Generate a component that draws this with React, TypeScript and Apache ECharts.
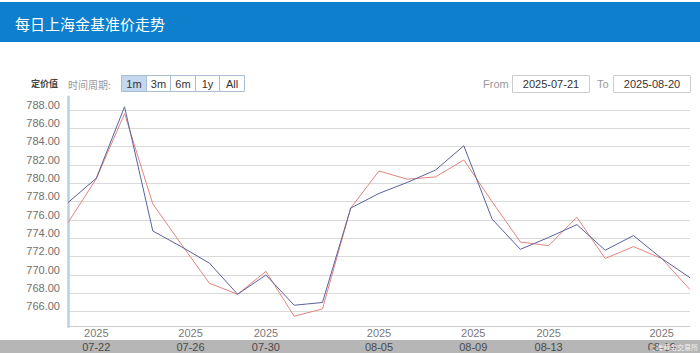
import React, { useEffect, useRef } from 'react';
import * as echarts from 'echarts';

const tradingDays = [
  '2025-07-21', '2025-07-22', '2025-07-23', '2025-07-24', '2025-07-25',
  '2025-07-28', '2025-07-29', '2025-07-30', '2025-07-31', '2025-08-01',
  '2025-08-04', '2025-08-05', '2025-08-06', '2025-08-07', '2025-08-08',
  '2025-08-11', '2025-08-12', '2025-08-13', '2025-08-14', '2025-08-15',
  '2025-08-18', '2025-08-19', '2025-08-20',
];

// 早盘价 (blue) and 午盘价 (red)
const blueValues = [
  777.9, 780.55, 788.35, 774.8, 773.1, 771.3, 767.9, 770.0, 766.7, 767.0,
  777.3, 778.9, 780.1, 781.45, 784.1, 776.1, 772.8, 774.1, 775.5, 772.7,
  774.3, 771.8, 769.7,
];
const redValues = [
  775.7, 780.5, 787.6, 777.75, 773.4, 769.1, 767.9, 770.4, 765.5, 766.3,
  777.3, 781.35, 780.45, 780.7, 782.55, 778.0, 773.6, 773.2, 776.3, 771.8,
  773.1, 771.8, 768.4,
];

const yTickValues = [766, 768, 770, 772, 774, 776, 778, 780, 782, 784, 786, 788];
const yMin = 764.36;
const yMax = 789.45;

const xTickDates = [
  '2025-07-22', '2025-07-26', '2025-07-30', '2025-08-05',
  '2025-08-09', '2025-08-13', '2025-08-19',
];

const periodButtons = ['1m', '3m', '6m', '1y', 'All'];
const fromDate = '2025-07-21';
const toDate = '2025-08-20';
const titleText = '每日上海金基准价走势';

const dayMs = (s: string) => Date.parse(s + 'T00:00:00Z');
function ordinalPos(d: string): number {
  const t = dayMs(d);
  for (let i = 0; i < tradingDays.length - 1; i++) {
    const a = dayMs(tradingDays[i]);
    const b = dayMs(tradingDays[i + 1]);
    if (t >= a && t <= b) return i + (t - a) / (b - a);
  }
  return tradingDays.length - 1;
}

const xTickPos = xTickDates.map(ordinalPos);

const CJK = '"Noto Sans CJK SC", "Liberation Sans", sans-serif';
const LAT = '"Liberation Sans", "Noto Sans CJK SC", sans-serif';

export default function App() {
  const ref = useRef<HTMLDivElement>(null);
  useEffect(() => {
    if (!ref.current) return;
    const chart = echarts.init(ref.current, undefined, { renderer: 'svg' });

    const btnX = [121, 146, 170, 195, 219, 244];
    const buttons: any[] = [];
    periodButtons.forEach((b, i) => {
      buttons.push({
        type: 'rect',
        z: 1,
        shape: { x: btnX[i] + 0.5, y: 75.5, width: btnX[i + 1] - btnX[i], height: 16 },
        style: { fill: i === 0 ? '#c3d7ef' : '#ffffff', stroke: '#a9bdd6', lineWidth: 1 },
      });
      buttons.push({
        type: 'text',
        z: 2,
        style: {
          text: b,
          x: (btnX[i] + btnX[i + 1]) / 2 + 0.5,
          y: 84,
          align: 'center',
          verticalAlign: 'middle',
          fill: '#333',
          font: `11px ${LAT}`,
        },
      });
    });

    const option: any = {
      animation: false,
      backgroundColor: '#ffffff',
      grid: { left: 68, right: 10, top: 96.7, bottom: 26.3, containLabel: false },
      xAxis: {
        type: 'value',
        min: 0,
        max: tradingDays.length - 1,
        axisLine: { show: true, lineStyle: { color: '#cccccc', width: 1 } },
        axisTick: { show: false, customValues: xTickPos },
        splitLine: { show: false },
        axisLabel: {
          customValues: xTickPos,
          margin: 0,
          formatter: (v: number) => {
            let idx = 0;
            let best = Infinity;
            xTickPos.forEach((p, i) => {
              const d = Math.abs(p - v);
              if (d < best) { best = d; idx = i; }
            });
            const s = xTickDates[idx];
            return `{y|${s.slice(0, 4)}}\n{d|${s.slice(5)}}`;
          },
          rich: {
            y: { fontSize: 11, lineHeight: 13.5, color: '#7a7a7a', fontFamily: LAT },
            d: { fontSize: 11, lineHeight: 13.5, color: '#4a4a4a', fontFamily: LAT },
          },
        },
      },
      yAxis: {
        type: 'value',
        min: yMin,
        max: yMax,
        axisLine: { show: true, lineStyle: { color: '#bccfe2', width: 2.5 } },
        axisTick: { show: false, customValues: yTickValues },
        splitLine: { show: true, lineStyle: { color: '#d9d9d9', width: 1 } },
        axisLabel: {
          customValues: yTickValues,
          margin: 8,
          verticalAlign: 'bottom',
          color: '#707070',
          fontSize: 11,
          fontFamily: LAT,
          formatter: (v: number) => v.toFixed(2),
        },
      },
      series: [
        {
          type: 'line',
          data: blueValues.map((v, i) => [i, v]),
          showSymbol: false,
          symbol: 'none',
          lineStyle: { color: '#5a619e', width: 1 },
          z: 3,
        },
        {
          type: 'line',
          data: redValues.map((v, i) => [i, v]),
          showSymbol: false,
          symbol: 'none',
          lineStyle: { color: '#e0857e', width: 1 },
          z: 2,
        },
      ],
      graphic: [
        {
          type: 'rect',
          z: -10,
          shape: { x: 0, y: 2, width: 700, height: 40 },
          style: { fill: '#0d7fcc' },
        },
        {
          type: 'text',
          style: {
            text: titleText,
            x: 15,
            y: 23,
            verticalAlign: 'middle',
            fill: '#ffffff',
            font: `15px ${CJK}`,
          },
        },
        {
          type: 'rect',
          z: -10,
          shape: { x: 0, y: 340, width: 700, height: 13 },
          style: { fill: '#b6b6b6' },
        },
        {
          type: 'text',
          style: {
            text: '定价值',
            x: 31,
            y: 83,
            verticalAlign: 'middle',
            fill: '#444',
            font: `bold 9px ${CJK}`,
          },
        },
        {
          type: 'text',
          style: {
            text: '时间周期:',
            x: 68,
            y: 84,
            verticalAlign: 'middle',
            fill: '#9a9a9a',
            font: `10px ${CJK}`,
          },
        },
        ...buttons,
        {
          type: 'text',
          style: { text: 'From', x: 483, y: 84, verticalAlign: 'middle', fill: '#999', font: `11px ${LAT}` },
        },
        {
          type: 'rect',
          shape: { x: 512.5, y: 75.5, width: 77, height: 17 },
          style: { fill: '#fff', stroke: '#cccccc', lineWidth: 1 },
        },
        {
          type: 'text',
          style: { text: fromDate, x: 551, y: 84, align: 'center', verticalAlign: 'middle', fill: '#333', font: `11px ${LAT}` },
        },
        {
          type: 'text',
          style: { text: 'To', x: 597, y: 84, verticalAlign: 'middle', fill: '#999', font: `11px ${LAT}` },
        },
        {
          type: 'rect',
          shape: { x: 613.5, y: 75.5, width: 77, height: 17 },
          style: { fill: '#fff', stroke: '#cccccc', lineWidth: 1 },
        },
        {
          type: 'text',
          style: { text: toDate, x: 652, y: 84, align: 'center', verticalAlign: 'middle', fill: '#333', font: `11px ${LAT}` },
        },
        {
          type: 'text',
          z: 100,
          style: { text: '上海黄金交易所', x: 698, y: 347, align: 'right', verticalAlign: 'middle', fill: 'rgba(255,255,255,0.85)', font: `7px ${CJK}` },
        },
      ],
    };
    chart.setOption(option);
    return () => chart.dispose();
  }, []);
  return (
    <div
      ref={ref}
      style={{ position: 'fixed', left: 0, top: 0, width: 700, height: 353 }}
    />
  );
}
